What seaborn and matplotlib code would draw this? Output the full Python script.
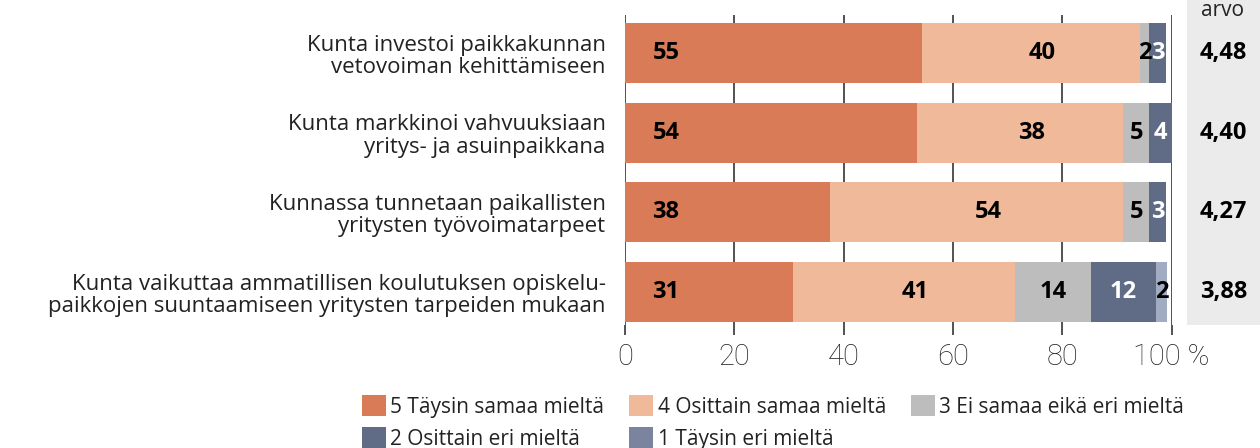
import matplotlib
matplotlib.use("Agg")
import matplotlib.pyplot as plt
import matplotlib.transforms as mtransforms
from matplotlib.patches import Patch
import seaborn as sns
import pandas as pd

# --- data ---
categories = [
    "Kunta investoi paikkakunnan\nvetovoiman kehittämiseen",
    "Kunta markkinoi vahvuuksiaan\nyritys- ja asuinpaikkana",
    "Kunnassa tunnetaan paikallisten\nyritysten työvoimatarpeet",
    "Kunta vaikuttaa ammatillisen koulutuksen opiskelu-\npaikkojen suuntaamiseen yritysten tarpeiden mukaan",
]
series_names = [
    "5 Täysin samaa mieltä",
    "4 Osittain samaa mieltä",
    "3 Ei samaa eikä eri mieltä",
    "2 Osittain eri mieltä",
    "1 Täysin eri mieltä",
]
# bar lengths (%) as measured on the picture
s5 = [54.4, 53.5, 37.6, 30.7]
s4 = [39.8, 37.7, 53.6, 40.7]
s3 = [1.7, 4.7, 4.7, 13.9]
s2 = [3.1, 4.1, 3.1, 11.8]
s1 = [0.0, 0.0, 0.0, 2.1]
# printed labels (rounded shares), None = no label
lab5 = [55, 54, 38, 31]
lab4 = [40, 38, 54, 41]
lab3 = [2, 5, 5, 14]
lab2 = [3, 4, 3, 12]
lab1 = [None, None, None, 2]
averages = ["4,48", "4,40", "4,27", "3,88"]
xticks = [0, 20, 40, 60, 80, 100]
xtick_labels = ["0", "20", "40", "60", "80", "100 %"]

colors = ["#d97b57", "#f0b99a", "#bdbdbd", "#606c85", "#a1abc1"]
legend_colors = ["#d97b57", "#f0b99a", "#bdbdbd", "#606c85", "#7a849e"]
text_colors = ["black", "black", "black", "white", "black"]

series = [s5, s4, s3, s2, s1]
labels = [lab5, lab4, lab3, lab2, lab1]

sns.set_style("white")
plt.rcParams["font.family"] = ["Open Sans", "DejaVu Sans"]

fig = plt.figure(figsize=(12.6, 4.48), dpi=100)
ax = fig.add_axes([625 / 1260, 1 - 325 / 448, 546.5 / 1260, 310 / 448])

# cumulative ends for stacking
cum = []
running = [0.0] * len(categories)
for s in series:
    running = [r + v for r, v in zip(running, s)]
    cum.append(list(running))

# draw from outermost layer to innermost so the segments stack
for i in reversed(range(len(series))):
    df = pd.DataFrame({"cat": categories, "end": cum[i]})
    sns.barplot(data=df, x="end", y="cat", order=categories, orient="h",
                color=colors[i], saturation=1, width=0.75, ax=ax,
                linewidth=0, zorder=2)

# segment labels
for i in range(len(series)):
    for j in range(len(categories)):
        lab = labels[i][j]
        if lab is None:
            continue
        start = cum[i][j] - series[i][j]
        if i == 0:
            xpos = start + 7.5
        elif i == 1:
            xpos = start + series[i][j] / 2 + 2
        else:
            xpos = start + series[i][j] / 2
        ax.text(xpos, j, str(lab), ha="center", va="center",
                fontsize=17, fontweight="bold", color=text_colors[i], zorder=3)

ax.set_xlim(0, 100)
ax.set_ylim(3.414, -0.477)
ax.set_xticks(xticks)
ax.set_xticklabels(xtick_labels, fontsize=21, fontweight="light", color="#222222",
                   family=["Roboto", "DejaVu Sans"])
ax.set_xlabel("")
ax.set_ylabel("")
ax.grid(axis="x", color="#444444", linewidth=1.3, zorder=0)
ax.grid(axis="y", visible=False)
ax.set_axisbelow(True)
for sp in ax.spines.values():
    sp.set_visible(False)
ax.tick_params(axis="x", direction="out", length=7, width=1.3, color="#444444", pad=6, bottom=True)
ax.tick_params(axis="y", length=0, pad=14)
for t in ax.get_yticklabels():
    t.set_fontsize(16)
    t.set_color("#222222")
    t.set_horizontalalignment("right")
    t.set_multialignment("right")
    t.set_linespacing(1.1)

# average panel on the right
pan = fig.add_axes([1187 / 1260, 1 - 325 / 448, 73 / 1260, 325 / 448])
pan.set_facecolor("#ebebeb")
pan.set_xticks([])
pan.set_yticks([])
for sp in pan.spines.values():
    sp.set_visible(False)
trans = mtransforms.blended_transform_factory(pan.transAxes, ax.transData)
for j, a in enumerate(averages):
    pan.text(0.5, j, a, transform=trans, ha="center", va="center",
             fontsize=17, fontweight="bold", color="black")
pan.text(0.48, 1.0, "arvo", transform=pan.transAxes, ha="center", va="top",
         fontsize=15, color="#222222", clip_on=False)

# legend
handles = [Patch(facecolor=c, edgecolor="none") for c in legend_colors]
order = [0, 3, 1, 4, 2]
fig.legend([handles[k] for k in order], [series_names[k] for k in order],
           ncol=3, loc="upper left", bbox_to_anchor=(354 / 1260, 1 - 387 / 448),
           frameon=False, fontsize=15, handlelength=1.15, handleheight=1.15,
           handletextpad=0.2, columnspacing=1.2, labelspacing=0.45,
           labelcolor="#222222", borderaxespad=0)

fig.savefig("out.png", dpi=100)
plt.close(fig)
